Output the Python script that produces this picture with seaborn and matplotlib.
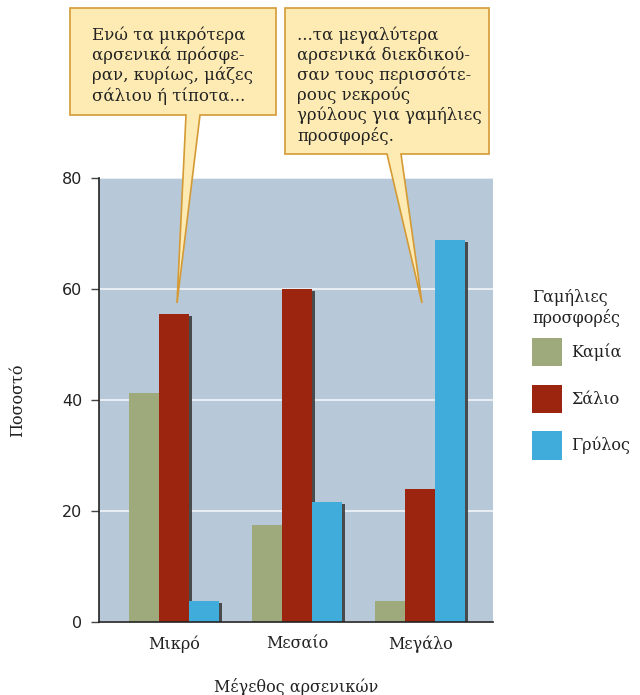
import matplotlib
matplotlib.use("Agg")
import matplotlib.pyplot as plt
import matplotlib.patheffects as pe
from matplotlib.patches import Polygon, Patch
import seaborn as sns
import pandas as pd

# Data
sizes = ["Μικρό", "Μεσαίο", "Μεγάλο"]
gifts = ["Καμία", "Σάλιο", "Γρύλος"]
none_pct = [41.3, 17.5, 3.8]
saliva_pct = [55.5, 60.0, 24.0]
cricket_pct = [3.8, 21.6, 68.8]
y_ticks = [0, 20, 40, 60, 80]
y_tick_labels = ["0", "20", "40", "60", "80"]

colors = ["#9faa7c", "#9b250e", "#40acdc"]

df = pd.DataFrame({
    "size": sizes * 3,
    "gift": [g for g in gifts for _ in sizes],
    "pct": none_pct + saliva_pct + cricket_pct,
})

sns.set_theme(style="white")
plt.rcParams["font.family"] = ["DejaVu Serif"]

fig = plt.figure(figsize=(6.4, 6.95), dpi=100)
W, H = 640, 695
ax = fig.add_axes([99 / W, 1 - 622 / H, 394 / W, 444 / H])
ax.set_facecolor("#b7c8d8")

sns.barplot(data=df, x="size", y="pct", hue="gift", order=sizes,
            hue_order=gifts, palette=colors, saturation=1, width=0.73,
            ax=ax, edgecolor="none", linewidth=0, legend=False)

shadow = [pe.SimplePatchShadow(offset=(2, -1.5), shadow_rgbFace="#3c3c3c",
                               alpha=0.9), pe.Normal()]
for p in ax.patches:
    p.set_path_effects(shadow)

ax.set_ylim(0, 80)
ax.set_xlim(-0.61, 2.59)
ax.set_yticks(y_ticks)
ax.set_yticklabels(y_tick_labels, fontsize=11.5, color="#222222",
                   family=["DejaVu Sans"])
ax.yaxis.grid(True, color="#eef2f6", linewidth=1.3)
ax.set_axisbelow(True)
ax.tick_params(axis="y", which="both", left=True, length=6, width=1,
               color="#444444", pad=6)
ax.tick_params(axis="x", bottom=False, labelsize=11.5, colors="#222222", pad=4)
for side in ("top", "right"):
    ax.spines[side].set_visible(False)
for side in ("left", "bottom"):
    ax.spines[side].set_color("#222222")
    ax.spines[side].set_linewidth(1.2)

ax.set_xlabel("Μέγεθος αρσενικών", fontsize=11.5, color="#222222",
              labelpad=18)
ax.set_ylabel("Ποσοστό", fontsize=11.5, color="#222222", labelpad=26)

# Legend built from the palette
handles = [Patch(facecolor=c, edgecolor="none") for c in colors]
leg = ax.legend(handles, gifts, title="Γαμήλιες\nπροσφορές",
                loc="upper left", bbox_to_anchor=(532 / W, 1 - 289 / H),
                bbox_transform=fig.transFigure, frameon=False,
                fontsize=11.5, title_fontsize=11.5, handlelength=1.9,
                handleheight=2.35, labelspacing=1.15, handletextpad=0.55,
                borderpad=0, borderaxespad=0)
leg._legend_box.align = "left"
leg._legend_box.sep = 8
for t in leg.get_texts():
    t.set_color("#222222")
leg.get_title().set_color("#222222")


def px(pts):
    return [(x / W, 1 - y / H) for x, y in pts]


box_fc = "#fdebb3"
box_ec = "#d49a35"

# Callout boxes with pointers
c1 = [(70, 8), (276, 8), (276, 115), (200, 115), (177, 303), (186, 115),
      (70, 115)]
c2 = [(285, 8), (489, 8), (489, 154), (401, 154), (422, 303), (387, 154),
      (285, 154)]
for pts in (c1, c2):
    fig.patches.append(Polygon(px(pts), closed=True, transform=fig.transFigure,
                               facecolor=box_fc, edgecolor=box_ec,
                               linewidth=1.2, zorder=5))

fig.text(92 / W, 1 - 26 / H,
         "Ενώ τα μικρότερα\nαρσενικά πρόσφε-\nραν, κυρίως, μάζες\nσάλιου ή τίποτα...",
         fontsize=12, color="#222222", va="top", ha="left", linespacing=1.2,
         zorder=6)
fig.text(297 / W, 1 - 26 / H,
         "...τα μεγαλύτερα\nαρσενικά διεκδικού-\nσαν τους περισσότε-\nρους νεκρούς\nγρύλους για γαμήλιες\nπροσφορές.",
         fontsize=12, color="#222222", va="top", ha="left", linespacing=1.2,
         zorder=6)

fig.savefig("out.png", dpi=100, facecolor="white")
